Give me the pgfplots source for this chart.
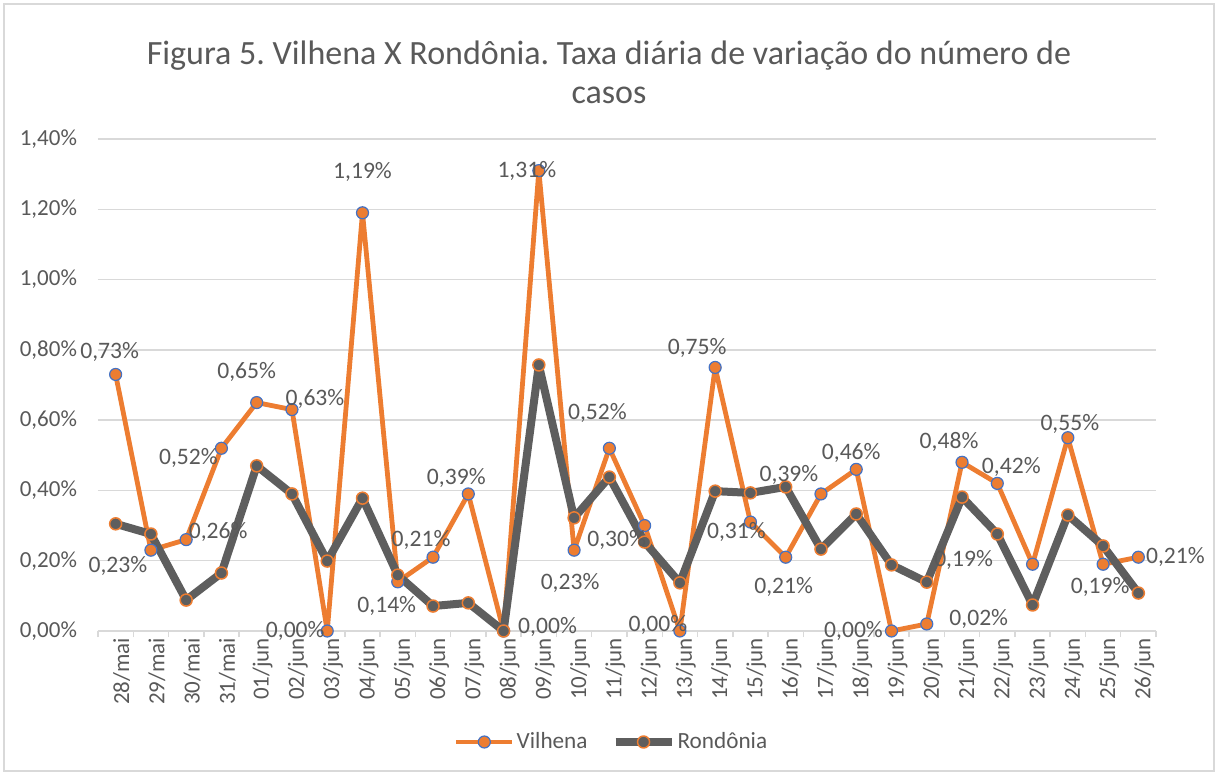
\documentclass[border=0pt]{standalone}
\usepackage{fontspec}
\setmainfont{Carlito}
\usepackage{pgfplots}
\usepackage{pgfplotstable}
\pgfplotsset{compat=1.18}

\definecolor{vorange}{HTML}{ED7D31}
\definecolor{vblue}{HTML}{4472C4}
\definecolor{rgray}{HTML}{5E5E5E}
\definecolor{txtgray}{HTML}{595959}
\definecolor{gridgray}{HTML}{D9D9D9}

% Vilhena: value in %, label offsets in pt
\pgfplotstableread{
x  y     dx     dy
0  0.73  -3     11
1  0.23  -16.5  -8
2  0.26  16     4
3  0.52  -16.5  -5
4  0.65  -5     15.5
5  0.63  11.5   5.5
6  0.00  -16    0
7  1.19  0      20.5
8  0.14  -5.5   -12
9  0.21  -6     8.5
10 0.39  -6     8
11 0.00  22     2
12 1.31  -6     0
13 0.23  -2     -16.5
14 0.52  -6     17.5
15 0.30  -14    -7
16 0.00  -11    3
17 0.75  -9     9.5
18 0.31  -7     -5
19 0.21  -1     -15
20 0.39  -16    9.5
21 0.46  -2.5   8
22 0.00  -19    0
23 0.02  26     2.5
24 0.48  -6.5   10
25 0.42  7      8
26 0.19  -34.5  2
27 0.55  1      7
28 0.19  -1.5   -11.5
29 0.21  18.5   0
}\vilhena

\pgfplotstableread{
x  y
0  0.305
1  0.276
2  0.088
3  0.165
4  0.470
5  0.390
6  0.199
7  0.378
8  0.159
9  0.071
10 0.080
11 0.000
12 0.757
13 0.322
14 0.438
15 0.253
16 0.137
17 0.398
18 0.393
19 0.410
20 0.233
21 0.333
22 0.188
23 0.139
24 0.381
25 0.276
26 0.074
27 0.330
28 0.242
29 0.108
}\rondonia

\begin{document}
\frenchspacing
\begin{tikzpicture}
\useasboundingbox (-49pt,-72.5pt) rectangle (560.5pt,315.5pt);
\draw[gridgray, line width=0.6pt] (-47pt,-70pt) rectangle (558pt,313.5pt);
\node[text=txtgray, align=center, font=\fontsize{17}{19.5}\selectfont]
  at (255.5pt,279.25pt) {Figura 5. Vilhena X Rondônia. Taxa diária de variação do número de\\casos};
\begin{axis}[
  scale only axis, width=529pt, height=246pt,
  xmin=-0.5, xmax=29.5, ymin=0, ymax=1.4,
  xtick={0,...,29},
  xticklabels={28/mai,29/mai,30/mai,31/mai,01/jun,02/jun,03/jun,04/jun,05/jun,06/jun,
    07/jun,08/jun,09/jun,10/jun,11/jun,12/jun,13/jun,14/jun,15/jun,16/jun,
    17/jun,18/jun,19/jun,20/jun,21/jun,22/jun,23/jun,24/jun,25/jun,26/jun},
  minor xtick={-0.5,0.5,...,29.5},
  major tick length=0pt, minor tick length=3pt,
  tick align=outside, xtick pos=bottom, ytick pos=left,
  ytick={0,0.2,...,1.4},
  yticklabel={\pgfmathprintnumber[fixed,fixed zerofill,precision=2,use comma]{\tick}\%},
  /pgf/number format/assume math mode=true,
  axis line style={draw=none},
  ymajorgrids, grid style={gridgray, line width=0.75pt},
  minor tick style={gridgray, line width=0.75pt},
  tick label style={font=\fontsize{11.5}{13}\selectfont, text=txtgray},
  xticklabel style={rotate=90, anchor=east, yshift=-3pt},
  yticklabel style={anchor=east, xshift=-7pt},
  clip=false,
  legend style={at={(0.4854,-0.2256)}, anchor=center, draw=none, fill=none,
    legend columns=2, font=\fontsize{11.6}{13}\selectfont, text=txtgray,
    /tikz/every even column/.append style={column sep=11pt},
    nodes={inner sep=1pt}},
  legend image code/.code={\draw[mark repeat=2,mark phase=2,#1]
    plot coordinates {(0pt,0pt) (14pt,0pt) (28pt,0pt)};},
]
\draw[gridgray, line width=0.75pt] (axis cs:-0.5,0) -- (axis cs:29.5,0);
\addplot[vorange, line width=2.4pt, line join=round, mark=*, mark size=3pt,
  mark options={fill=vorange, draw=vblue, line width=0.6pt}]
  table[x=x, y=y] {\vilhena};
\addlegendentry{Vilhena}
\addplot[rgray, line width=4pt, line join=round, mark=*, mark size=3pt,
  mark options={fill=rgray, draw=vorange, line width=0.75pt}]
  table[x=x, y=y] {\rondonia};
\addlegendentry{Rondônia}
\addplot[draw=none, mark=none, forget plot,
  point meta=\thisrow{y},
  visualization depends on={\thisrow{dx} \as \dx},
  visualization depends on={\thisrow{dy} \as \dy},
  nodes near coords={\pgfmathprintnumber[fixed,fixed zerofill,precision=2,use comma]{\pgfplotspointmeta}\%},
  nodes near coords style={anchor=center, xshift=\dx pt, yshift=\dy pt,
    font=\fontsize{11.8}{13}\selectfont, text=txtgray, inner sep=0pt}]
  table[x=x, y=y] {\vilhena};
\end{axis}
\end{tikzpicture}
\end{document}
